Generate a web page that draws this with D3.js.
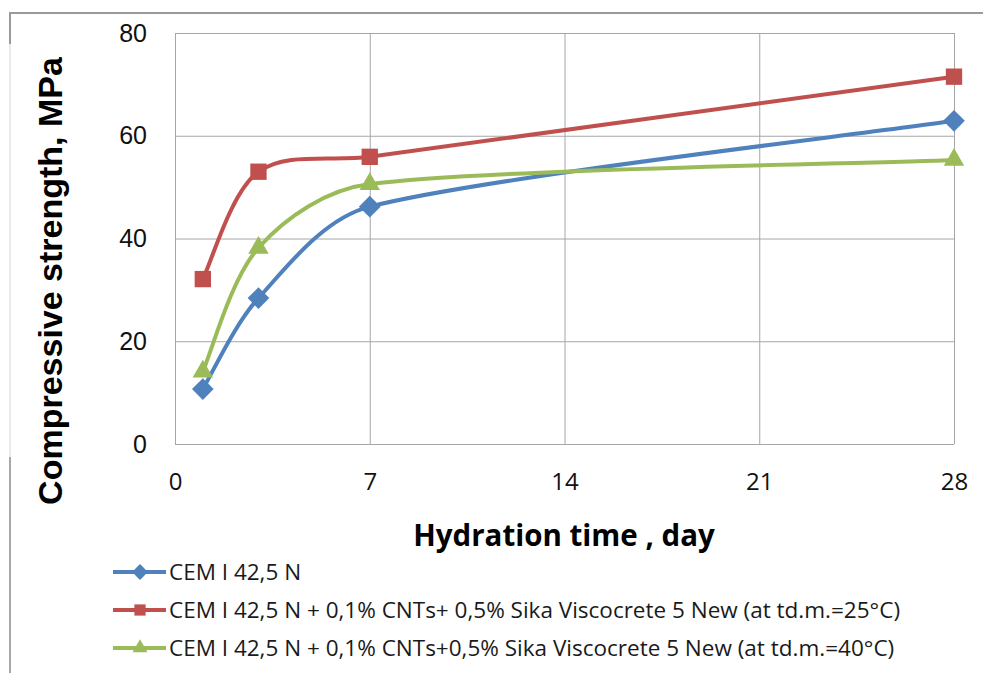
<!DOCTYPE html>
<html>
<head>
<meta charset="utf-8">
<script src="https://cdn.jsdelivr.net/npm/d3@7"></script>
<style>
  body { margin: 0; background: #fff; }
</style>
</head>
<body>
<div id="chart"></div>
<script>
const width = 983;
const height = 673;

// data
const days = [1, 3, 7, 28];
const cemPlain = [10.7, 28.4, 46.2, 62.9];
const cnt25 = [32.1, 53.0, 55.9, 71.5];
const cnt40 = [14.1, 38.2, 50.6, 55.3];
const xTicks = [0, 7, 14, 21, 28];
const yTicks = [0, 20, 40, 60, 80];
const seriesNames = [
  "CEM I 42,5 N",
  "CEM I 42,5 N + 0,1% CNTs+ 0,5% Sika Viscocrete 5 New (at td.m.=25°C)",
  "CEM I 42,5 N + 0,1% CNTs+0,5% Sika Viscocrete 5 New (at td.m.=40°C)"
];
const colors = ["#4f81bd", "#c0504d", "#9bbb59"];
const symbols = [d3.symbolDiamond2, d3.symbolSquare2, d3.symbolTriangle2];

const series = [cemPlain, cnt25, cnt40].map((vals, i) => ({
  name: seriesNames[i],
  color: colors[i],
  symbol: symbols[i],
  points: days.map((d, j) => ({ x: d, y: vals[j] }))
}));

// spreadsheet-style smoothing: catmull-rom tangents, arms capped by segment length
function smoothCurve(context) {
  let pts;
  return {
    areaStart() {},
    areaEnd() {},
    lineStart() { pts = []; },
    point(x, y) { pts.push([+x, +y]); },
    lineEnd() {
      const n = pts.length;
      if (!n) return;
      context.moveTo(pts[0][0], pts[0][1]);
      const tan = pts.map((p, i) => {
        const a = pts[Math.max(i - 1, 0)];
        const b = pts[Math.min(i + 1, n - 1)];
        return [b[0] - a[0], b[1] - a[1]];
      });
      for (let i = 0; i < n - 1; i++) {
        const p0 = pts[i], p1 = pts[i + 1];
        const L = Math.hypot(p1[0] - p0[0], p1[1] - p0[1]);
        const arm = t => {
          const len = Math.hypot(t[0], t[1]) || 1;
          const k = Math.min(len / 6, L / 3) / len;
          return [t[0] * k, t[1] * k];
        };
        const a0 = arm(tan[i]), a1 = arm(tan[i + 1]);
        context.bezierCurveTo(p0[0] + a0[0], p0[1] + a0[1],
          p1[0] - a1[0], p1[1] - a1[1], p1[0], p1[1]);
      }
    }
  };
}

const svg = d3.select("#chart")
  .append("svg")
  .attr("width", width)
  .attr("height", height);

// outer frame bits (cropped border of the original figure)
svg.append("line").attr("x1", 10).attr("x2", width).attr("y1", 13).attr("y2", 13)
  .attr("stroke", "#9a9a9a").attr("stroke-width", 2);
svg.append("line").attr("x1", 10).attr("x2", 10).attr("y1", 12).attr("y2", 44)
  .attr("stroke", "#9a9a9a").attr("stroke-width", 2);
svg.append("line").attr("x1", 10).attr("x2", 10).attr("y1", 44).attr("y2", 457)
  .attr("stroke", "#d4d4d4").attr("stroke-width", 1);
svg.append("line").attr("x1", 10).attr("x2", 10).attr("y1", 457).attr("y2", height)
  .attr("stroke", "#a8a8a8").attr("stroke-width", 2);

const x = d3.scaleLinear().domain([0, 28]).range([175, 954]);
const y = d3.scaleLinear().domain([0, 80]).range([444, 33]);

// grid
const grid = svg.append("g");
grid.selectAll(".vg")
  .data(xTicks)
  .enter()
  .append("line")
  .attr("x1", d => x(d) + 0.5)
  .attr("x2", d => x(d) + 0.5)
  .attr("y1", y(0))
  .attr("y2", y(80))
  .attr("stroke", "#a6a6a6");
grid.selectAll(".hg")
  .data(yTicks)
  .enter()
  .append("line")
  .attr("x1", x(0))
  .attr("x2", x(28))
  .attr("y1", d => y(d) + 0.5)
  .attr("y2", d => y(d) + 0.5)
  .attr("stroke", "#a6a6a6");

// axes (labels only, like the original)
const yAxis = svg.append("g")
  .attr("transform", `translate(${x(0) - 28},0)`)
  .call(d3.axisLeft(y).tickValues(yTicks).tickSize(0).tickPadding(0));
yAxis.select(".domain").remove();
yAxis.selectAll("text")
  .attr("font-family", "Liberation Sans, Arial, sans-serif")
  .attr("font-size", 25)
  .attr("fill", "#111");

const xAxis = svg.append("g")
  .attr("transform", `translate(0,${y(0) + 29})`)
  .call(d3.axisBottom(x).tickValues(xTicks).tickSize(0).tickPadding(0));
xAxis.select(".domain").remove();
xAxis.selectAll("text")
  .attr("font-family", "Open Sans, sans-serif")
  .attr("font-size", 24)
  .attr("fill", "#111");

// axis titles
svg.append("text")
  .attr("transform", "translate(62,281) rotate(-90)")
  .attr("text-anchor", "middle")
  .attr("font-family", "Liberation Sans, Arial, sans-serif")
  .attr("font-weight", "bold")
  .attr("font-size", 34)
  .attr("fill", "#000")
  .text("Compressive strength, MPa");

svg.append("text")
  .attr("x", 564)
  .attr("y", 546)
  .attr("text-anchor", "middle")
  .attr("font-family", "Open Sans, sans-serif")
  .attr("font-weight", "bold")
  .attr("font-size", 29.5)
  .attr("fill", "#000")
  .text("Hydration time , day");

// lines
const line = d3.line()
  .x(d => x(d.x))
  .y(d => y(d.y))
  .curve(smoothCurve);

const plot = svg.append("g");
series.forEach(s => {
  plot.append("path")
    .datum(s.points)
    .attr("d", line)
    .attr("fill", "none")
    .attr("stroke", s.color)
    .attr("stroke-width", 4);
});
series.forEach(s => {
  plot.selectAll(null)
    .data(s.points)
    .enter()
    .append("path")
    .attr("transform", d => `translate(${x(d.x)},${y(d.y)})`)
    .attr("d", d3.symbol().type(s.symbol).size(s.symbol === d3.symbolSquare2 ? 340 : 300))
    .attr("fill", s.color);
});

// legend
const legend = svg.append("g");
const rows = legend.selectAll("g")
  .data(series)
  .enter()
  .append("g")
  .attr("transform", (d, i) => `translate(113,${572 + i * 38})`);
rows.append("line")
  .attr("x1", 0).attr("x2", 53)
  .attr("stroke", d => d.color)
  .attr("stroke-width", 4);
rows.append("path")
  .attr("transform", "translate(27,0)")
  .attr("d", d => d3.symbol().type(d.symbol).size(160)())
  .attr("fill", d => d.color);
rows.append("text")
  .attr("x", 56)
  .attr("dy", "0.35em")
  .attr("font-family", "Open Sans, sans-serif")
  .attr("font-size", 22.5)
  .attr("fill", "#1a1a1a")
  .text(d => d.name);
</script>
</body>
</html>
